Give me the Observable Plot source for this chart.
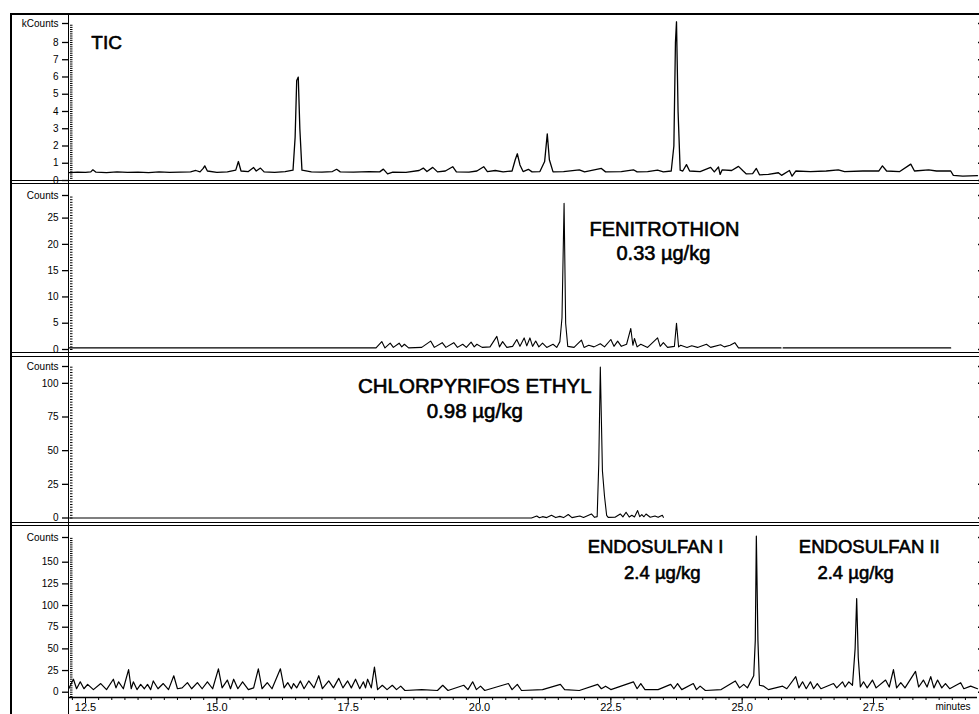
<!DOCTYPE html>
<html><head><meta charset="utf-8">
<script src="https://cdn.jsdelivr.net/npm/d3@7"></script>
<script src="https://cdn.jsdelivr.net/npm/@observablehq/plot@0.6"></script>
<style>
html,body{margin:0;padding:0;background:#fff;overflow:hidden;}
#chart{position:relative;width:979px;height:714px;font-family:"Liberation Sans",Arial,sans-serif;}
#chart .pan{position:absolute;left:0;}
#chart .pan svg{overflow:visible;display:block;}
.ln{position:absolute;background:#000;}
</style></head><body><div id="chart"></div>
<script>
// ---------- data ----------
const xDomain = [12.176, 29.48];
const xMajorTicks = [12.5, 15.0, 17.5, 20.0, 22.5, 25.0, 27.5];

// TIC (kCounts)
const ticTime = [12.18,12.35,12.50,12.60,12.64,12.70,12.90,13.10,13.30,13.50,13.70,13.90,14.10,14.30,14.50,14.60,14.68,14.74,14.77,14.82,15.00,15.20,15.36,15.41,15.46,15.60,15.70,15.75,15.83,15.90,16.10,16.30,16.45,16.49,16.52,16.55,16.58,16.62,16.80,17.00,17.20,17.28,17.35,17.60,17.90,18.10,18.17,18.25,18.35,18.60,18.85,18.93,19.00,19.11,19.20,19.35,19.49,19.56,19.80,19.95,20.08,20.15,20.30,20.45,20.62,20.68,20.72,20.77,20.83,20.93,21.00,21.15,21.24,21.29,21.33,21.40,21.60,21.90,22.00,22.32,22.40,22.70,22.93,23.00,23.20,23.39,23.50,23.65,23.70,23.73,23.75,23.78,23.82,23.87,23.94,24.00,24.20,24.40,24.47,24.55,24.58,24.62,24.80,24.93,25.02,25.08,25.20,25.27,25.33,25.50,25.69,25.75,25.90,25.95,26.02,26.30,26.60,26.83,26.95,27.30,27.60,27.67,27.75,28.00,28.21,28.28,28.55,28.70,28.97,29.02,29.20,29.48];
const ticKCounts = [0.46,0.48,0.47,0.50,0.62,0.48,0.46,0.50,0.47,0.49,0.46,0.50,0.47,0.49,0.50,0.58,0.50,0.70,0.85,0.55,0.47,0.50,0.60,1.10,0.55,0.52,0.75,0.55,0.72,0.50,0.47,0.52,0.60,2.50,5.80,5.99,3.00,0.60,0.50,0.48,0.52,0.65,0.50,0.48,0.52,0.50,0.66,0.38,0.48,0.47,0.58,0.72,0.52,0.76,0.50,0.55,0.80,0.50,0.48,0.55,0.80,0.52,0.58,0.50,0.55,1.20,1.55,0.90,0.52,0.65,0.50,0.52,1.10,2.70,1.20,0.50,0.52,0.62,0.50,0.70,0.50,0.52,0.62,0.50,0.52,0.60,0.50,0.55,2.00,8.00,9.20,4.00,0.60,0.55,0.92,0.55,0.52,0.76,0.50,0.78,0.35,0.62,0.58,0.82,0.55,0.38,0.40,0.70,0.33,0.35,0.45,0.30,0.58,0.25,0.55,0.52,0.55,0.62,0.52,0.55,0.55,0.85,0.55,0.52,0.95,0.55,0.62,0.55,0.55,0.30,0.25,0.28];
const ticYTicks = [0,1,2,3,4,5,6,7,8];
const ticYTop = 9.1;

// Fenitrothion (Counts)
const fenTime = [12.18,18.03,18.14,18.20,18.30,18.36,18.47,18.52,18.57,18.65,18.90,19.07,19.14,19.29,19.36,19.51,19.58,19.68,19.75,19.84,19.90,19.95,20.05,20.20,20.33,20.38,20.44,20.52,20.63,20.71,20.77,20.85,20.90,20.96,21.01,21.07,21.13,21.20,21.28,21.40,21.47,21.53,21.57,21.61,21.64,21.68,21.80,21.94,21.99,22.08,22.18,22.30,22.38,22.50,22.56,22.63,22.70,22.80,22.88,22.92,22.95,23.00,23.07,23.20,23.39,23.44,23.50,23.58,23.71,23.75,23.79,23.83,23.95,24.04,24.15,24.32,24.40,24.59,24.66,24.77,24.86,24.93,25.74,25.76,25.78,28.97];
const fenCounts = [0.3,0.3,1.5,0.3,1.2,0.4,1.2,0.5,1.0,0.3,0.4,1.6,0.4,1.3,0.4,1.3,0.4,1.0,0.4,1.4,0.5,1.0,0.4,0.5,2.5,0.5,1.5,0.4,0.6,1.9,0.6,2.2,0.7,2.2,0.6,1.6,0.5,1.2,0.4,1.0,0.4,1.5,6.0,27.8,5.0,0.6,0.4,1.8,0.4,0.8,0.5,1.1,0.5,1.9,0.6,1.6,0.6,1.0,4.0,0.8,2.1,0.5,1.0,0.4,2.2,0.6,1.3,0.4,0.6,5.0,0.5,0.8,0.4,0.7,0.4,1.0,0.4,0.9,0.5,0.8,1.3,0.3,0.3,NaN,0.3,0.3];
const fenYTicks = [0,5,10,15,20,25];
const fenYTop = 29.3;

// Chlorpyrifos ethyl (Counts)
const chlTime = [12.18,20.99,21.09,21.14,21.20,21.28,21.37,21.45,21.53,21.60,21.69,21.76,21.91,21.98,22.13,22.19,22.24,22.27,22.30,22.34,22.38,22.42,22.45,22.58,22.68,22.73,22.79,22.85,22.90,22.95,23.01,23.05,23.09,23.13,23.17,23.25,23.34,23.40,23.48,23.50];
const chlCounts = [0,0,1.5,0.2,1.0,0.3,2.0,0.3,1.2,0.3,2.6,0.3,1.5,0.4,3.0,0.5,1.0,40,112,35,16,2,0.5,0.6,3.0,0.8,4.3,0.7,2.0,0.8,5.5,1.0,2.5,0.9,3.0,0.6,1.5,0.5,2.0,0.5];
const chlYTicks = [0,25,50,75,100];
const chlYTop = 112.5;

// Endosulfan (Counts)
const endTime = [12.18,12.27,12.33,12.40,12.47,12.54,12.65,12.79,12.90,13.03,13.08,13.13,13.22,13.32,13.37,13.41,13.48,13.55,13.62,13.68,13.74,13.79,13.88,13.98,14.08,14.18,14.25,14.34,14.44,14.52,14.63,14.72,14.82,14.92,15.03,15.10,15.20,15.26,15.32,15.40,15.49,15.60,15.70,15.79,15.86,15.96,16.05,16.21,16.28,16.35,16.42,16.46,16.52,16.59,16.66,16.75,16.85,16.94,17.01,17.13,17.22,17.32,17.40,17.49,17.56,17.64,17.72,17.79,17.83,17.87,17.94,18.00,18.06,18.15,18.24,18.34,18.42,18.50,18.58,18.90,19.20,19.30,19.40,19.70,19.78,19.87,19.94,20.02,20.10,20.55,20.62,20.72,20.80,21.20,21.54,21.62,21.90,22.25,22.32,22.40,22.50,22.93,23.00,23.07,23.15,23.40,23.64,23.70,23.77,23.85,24.07,24.13,24.20,24.30,24.60,24.87,24.95,25.03,25.10,25.22,25.25,25.27,25.30,25.33,25.41,25.50,25.77,25.85,26.02,26.08,26.15,26.22,26.30,26.36,26.43,26.50,26.74,26.80,26.91,26.96,27.03,27.10,27.15,27.18,27.21,27.25,27.31,27.38,27.48,27.55,27.73,27.80,27.88,27.94,28.02,28.10,28.30,28.36,28.45,28.52,28.59,28.65,28.72,28.80,28.87,28.95,29.16,29.22,29.35,29.48];
const endCounts = [4,15,4,12,4,9,3,10,3,15,5,12,4,26,4,12,3,9,4,9,3,13,4,10,3,19,4,5,11,4,11,4,12,4,27,5,14,4,15,4,12,3,5,27,4,11,4,27,5,11,4,10,5,13,4,13,5,19,4,13,5,16,5,13,5,15,4,12,5,15,5,29,3,8,3,8,3,7,2,3,2,8,2,8,3,12,3,7,2,10,3,9,2,3,9,3,2,9,4,7,3,12,4,10,3,3,9,4,10,3,10,3,7,2,3,13,5,9,5,19,60,180,60,8,7,3,7,4,18,5,12,4,12,4,10,4,10,5,12,6,12,8,50,108,40,6,12,5,14,5,14,6,26,5,11,5,24,6,14,6,18,5,14,5,10,4,11,4,7,4];
const endYTicks = [0,25,50,75,100,125,150];
const endYTop = 178.5;
const endYBottom = -6.1;

// annotations (position in data units)
const ticLabels = [{t: 12.61, v: 8.0, text: "TIC"}];
const fenLabels = [{t: 23.52, v: 22.8, text: "FENITROTHION"}, {t: 23.50, v: 18.2, text: "0.33 µg/kg"}];
const chlLabels = [{t: 19.91, v: 97.6, text: "CHLORPYRIFOS ETHYL"}, {t: 19.91, v: 79, text: "0.98 µg/kg"}];
const endLabels = [
  {t: 23.35, v: 168, text: "ENDOSULFAN I"}, {t: 23.48, v: 138, text: "2.4 µg/kg"},
  {t: 27.42, v: 168, text: "ENDOSULFAN II"}, {t: 27.16, v: 138, text: "2.4 µg/kg"}
];

// ---------- drawing ----------
const FONT = '"Liberation Sans", Arial, sans-serif';
const chart = document.getElementById("chart");

function buildPanel(cfg) {
  const data = cfg.time.map((t, i) => ({t, v: cfg.values[i]}));
  const yAll = [...cfg.yTicks, cfg.yTop];
  const fmt = d => d === cfg.yTop ? cfg.unit : String(d);
  const marks = [
    Plot.axisY(cfg.minor, {anchor: "left", tickSize: 2.5, dx: 4.5, fill: "none", label: null, strokeWidth: 1}),
    Plot.axisY(yAll, {anchor: "left", tickSize: 6, tickPadding: 4, tickFormat: fmt, label: null, strokeWidth: 1.3, fontSize: 10}),
    Plot.axisY(yAll, {anchor: "right", tickSize: 2, fill: "none", label: null, strokeWidth: 1.5}),
    Plot.line(data, {x: "t", y: "v", stroke: "black", strokeWidth: cfg.lw}),
    Plot.text(cfg.labels, {x: "t", y: "v", text: "text", textAnchor: cfg.anchor || "middle", fontSize: cfg.fs || 19, fill: "black", stroke: "black", strokeWidth: 0.6})
  ];
  if (cfg.xAxis) {
    marks.push(
      Plot.ruleY([cfg.yDomain[0]], {stroke: "black", strokeWidth: 1.5}),
      Plot.axisX(d3.range(12.25, 29.45, 0.25), {anchor: "bottom", tickSize: 3, fill: "none", label: null}),
      Plot.axisX(xMajorTicks, {anchor: "bottom", tickSize: 6, tickPadding: 0, tickFormat: d3.format(".1f"), label: null, fontSize: 11}),
      Plot.text(["minutes"], {frameAnchor: "bottom-right", text: d => d, textAnchor: "start", lineAnchor: "top", dx: -42, dy: 5, fontSize: 10})
    );
  }
  const svg = Plot.plot({
    width: 979, height: cfg.height,
    marginLeft: 68, marginRight: 2, marginTop: cfg.mt, marginBottom: cfg.mb,
    x: cfg.xAxis ? {domain: xDomain} : {domain: xDomain, axis: null},
    y: {domain: cfg.yDomain},
    style: {fontFamily: FONT, fontSize: "10px", color: "black", background: "transparent", overflow: "visible"},
    marks
  });
  const wrap = document.createElement("div");
  wrap.className = "pan";
  wrap.style.top = cfg.top + "px";
  wrap.appendChild(svg);
  chart.appendChild(wrap);
}

buildPanel({top: 0, height: 181, mt: 23, mb: 1, yDomain: [0, ticYTop], yTicks: ticYTicks, yTop: ticYTop, unit: "kCounts",
  minor: d3.range(0, 9.1, 0.125), time: ticTime, values: ticKCounts, lw: 1.3, labels: ticLabels, anchor: "start", fs: 19});
buildPanel({top: 181, height: 172, mt: 14, mb: 4, yDomain: [0, fenYTop], yTicks: fenYTicks, yTop: fenYTop, unit: "Counts",
  minor: d3.range(0, 29.3, 0.5), time: fenTime, values: fenCounts, lw: 1.1, labels: fenLabels, fs: 20});
buildPanel({top: 353, height: 170, mt: 13, mb: 5.5, yDomain: [0, chlYTop], yTicks: chlYTicks, yTop: chlYTop, unit: "Counts",
  minor: d3.range(0, 112.5, 2), time: chlTime, values: chlCounts, lw: 1.1, labels: chlLabels, fs: 20.5});
buildPanel({top: 523, height: 191, mt: 14, mb: 17, yDomain: [endYBottom, endYTop], yTicks: endYTicks, yTop: endYTop, unit: "Counts",
  minor: d3.range(-5, 178.5, 2.5), time: endTime, values: endCounts, lw: 1.2, labels: endLabels, xAxis: true, fs: 18.5});

// frame lines (decoration)
function line(l, t, w, h) {
  const d = document.createElement("div");
  d.className = "ln";
  Object.assign(d.style, {left: l + "px", top: t + "px", width: w + "px", height: h + "px"});
  chart.appendChild(d);
}
line(10, 13, 969, 2);        // top border
line(10, 13, 1.5, 701);      // left border
line(67.5, 14, 1.5, 700);    // y axis line
[180, 183, 352, 355.5, 521.5, 525].forEach(y => line(10, y, 969, 1.4)); // panel separators
</script></body></html>
